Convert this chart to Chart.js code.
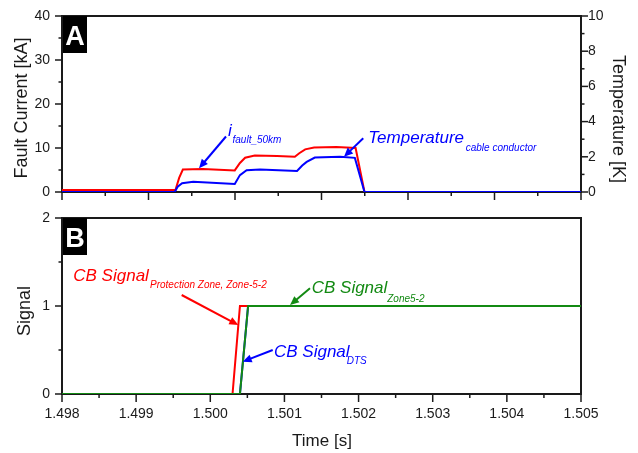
<!DOCTYPE html>
<html>
<head>
<meta charset="utf-8">
<script src="https://cdn.jsdelivr.net/npm/chart.js@4.4.0/dist/chart.umd.min.js"></script>
<style>
  html, body { margin: 0; padding: 0; background: #fff; }
  #wrap { position: relative; width: 638px; height: 453px; }
  canvas { position: absolute; left: 0; }
  #top { top: 0; }
  #bottom { top: 205px; }
</style>
</head>
<body>
<div id="wrap">
  <canvas id="top" width="638" height="205"></canvas>
  <canvas id="bottom" width="638" height="248"></canvas>
</div>
<script>
// panel A: fault current [kA] (left axis) and cable conductor temperature [K] (right axis)
const timeCurrent = [1.498, 1.49953, 1.49958, 1.49963, 1.4999, 1.50033, 1.5004, 1.50047, 1.5006, 1.5009,
                     1.50114, 1.5012, 1.50128, 1.5014, 1.5017, 1.50196, 1.50208, 1.505];
const faultCurrent = [0.45, 0.45, 3.2, 5.1, 5.2, 4.9, 6.6, 7.8, 8.3, 8.2,
                      8.0, 8.8, 9.7, 10.1, 10.2, 10.0, 0, 0];
const timeTemp = [1.498, 1.49952, 1.49956, 1.49962, 1.49977, 1.50033, 1.5004, 1.50049, 1.50067, 1.50117,
                  1.50124, 1.5013, 1.50141, 1.50175, 1.50195, 1.50208, 1.505];
const cableTemp = [0, 0, 0.3, 0.5, 0.58, 0.45, 0.96, 1.24, 1.28, 1.2,
                   1.5, 1.71, 1.96, 2.0, 1.94, 0, 0];

// panel B: circuit breaker signals
const timeCbProt = [1.498, 1.5003, 1.5004, 1.505];
const cbProt = [0, 0, 1, 1];
const timeCbZone = [1.498, 1.5004, 1.50051, 1.505];
const cbZone = [0, 0, 1, 1];
const timeCbDts = [1.498, 1.5004, 1.50051, 1.505];
const cbDts = [0, 0, 1, 1];

// axes
const xMin = 1.498, xMax = 1.505;
const xTicks = [1.498, 1.499, 1.500, 1.501, 1.502, 1.503, 1.504, 1.505];
const currentTicks = [0, 10, 20, 30, 40];
const tempTicks = [0, 2, 4, 6, 8, 10];
const signalTicks = [0, 1, 2];

const FONT = "Arial, 'Liberation Sans', sans-serif";
const INK = '#1a1a1a';
const RED = '#ff0000', BLUE = '#0000ff', GREEN = '#138a13';

Chart.defaults.font.family = FONT;

function pts(xs, ys) { return xs.map((x, i) => ({ x: x, y: ys[i] })); }

function midpoints(a) {
    const out = [];
    for (let i = 0; i < a.length - 1; i++) out.push((a[i] + a[i + 1]) / 2);
    return out;
}

// the scale box is fixed, label overflow must not push the plot area around
function fixBox(size) {
    return s => {
        if (s.isHorizontal()) s.height = size; else s.width = size;
        s.paddingTop = 0; s.paddingBottom = 0; s.paddingLeft = 0; s.paddingRight = 0;
    };
}

// top panel x axis has no labels, just 12 evenly spaced tick marks
const topXMajor = [], topXMinor = [];
for (let k = 0; k <= 12; k++) {
    const v = xMin + (xMax - xMin) * k / 12;
    (k % 2 === 0 ? topXMajor : topXMinor).push(v);
}

function arrow(ctx, x1, y1, x2, y2, color) {
    const a = Math.atan2(y2 - y1, x2 - x1);
    const hl = 9, hw = 4;
    ctx.strokeStyle = color;
    ctx.fillStyle = color;
    ctx.lineWidth = 2;
    ctx.beginPath();
    ctx.moveTo(x1, y1);
    ctx.lineTo(x2 - hl * 0.7 * Math.cos(a), y2 - hl * 0.7 * Math.sin(a));
    ctx.stroke();
    ctx.beginPath();
    ctx.moveTo(x2, y2);
    ctx.lineTo(x2 - hl * Math.cos(a) + hw * Math.sin(a), y2 - hl * Math.sin(a) - hw * Math.cos(a));
    ctx.lineTo(x2 - hl * Math.cos(a) - hw * Math.sin(a), y2 - hl * Math.sin(a) + hw * Math.cos(a));
    ctx.closePath();
    ctx.fill();
}

const framePlugin = {
    id: 'frame',
    beforeDatasetsDraw(chart, args, opts) {
        const { ctx, chartArea: a } = chart;
        ctx.save();
        ctx.strokeStyle = INK;
        ctx.lineWidth = 2;
        ctx.strokeRect(a.left, a.top, a.right - a.left, a.bottom - a.top);
        ctx.lineWidth = 1.5;
        opts.ticks.forEach(spec => {
            const s = chart.scales[spec.scale];
            const draw = (v, len) => {
                const p = s.getPixelForValue(v);
                ctx.beginPath();
                if (spec.side === 'left') { ctx.moveTo(a.left, p); ctx.lineTo(a.left - len, p); }
                else if (spec.side === 'right') { ctx.moveTo(a.right, p); ctx.lineTo(a.right + len, p); }
                else { ctx.moveTo(p, a.bottom); ctx.lineTo(p, a.bottom + len); }
                ctx.stroke();
            };
            spec.major.forEach(v => draw(v, spec.len));
            spec.minor.forEach(v => draw(v, spec.len / 2));
        });
        ctx.restore();
    },
    afterDraw(chart, args, opts) {
        const { ctx, chartArea: a } = chart;
        const sx = chart.scales.x, sy = chart.scales.y;
        ctx.save();

        // panel letter
        ctx.fillStyle = '#000';
        ctx.fillRect(a.left + 1, a.top, 24, 37);
        ctx.fillStyle = '#fff';
        ctx.font = 'bold 27px ' + FONT;
        ctx.textAlign = 'center';
        ctx.textBaseline = 'alphabetic';
        ctx.fillText(opts.panel, a.left + 13, a.top + 29);

        // axis titles
        ctx.fillStyle = INK;
        ctx.textBaseline = 'middle';
        opts.titles.forEach(t => {
            ctx.save();
            ctx.font = t.size + 'px ' + FONT;
            ctx.translate(t.x, t.y);
            ctx.rotate(t.rot);
            ctx.fillText(t.text, 0, 0);
            ctx.restore();
        });

        // labels with subscripts and arrows
        ctx.textAlign = 'left';
        ctx.textBaseline = 'alphabetic';
        opts.notes.forEach(n => {
            ctx.fillStyle = n.color;
            ctx.font = 'italic 17px ' + FONT;
            ctx.fillText(n.text, sx.getPixelForValue(n.t), sy.getPixelForValue(n.v));
            ctx.font = 'italic 10px ' + FONT;
            ctx.fillText(n.sub, sx.getPixelForValue(n.subT), sy.getPixelForValue(n.subV));
            arrow(ctx,
                sx.getPixelForValue(n.from[0]), sy.getPixelForValue(n.from[1]),
                sx.getPixelForValue(n.to[0]), sy.getPixelForValue(n.to[1]), n.color);
        });
        ctx.restore();
    }
};

const tickFont = { family: FONT, size: 14 };
const hiddenGrid = { display: false, drawTicks: false };

new Chart(document.getElementById('top'), {
    type: 'line',
    data: {
        datasets: [
            { label: 'Temperature cable conductor', data: pts(timeTemp, cableTemp), yAxisID: 'y1', borderColor: BLUE },
            { label: 'i fault_50km', data: pts(timeCurrent, faultCurrent), yAxisID: 'y', borderColor: RED }
        ]
    },
    options: {
        responsive: false,
        animation: false,
        layout: { padding: { top: 16, left: 0, right: 0, bottom: 0 } },
        elements: { point: { radius: 0 }, line: { borderWidth: 2, tension: 0 } },
        plugins: {
            legend: { display: false },
            tooltip: { enabled: false },
            frame: {
                panel: 'A',
                ticks: [
                    { scale: 'y', side: 'left', major: currentTicks, minor: midpoints(currentTicks), len: 7 },
                    { scale: 'y1', side: 'right', major: tempTicks, minor: midpoints(tempTicks), len: 7 },
                    { scale: 'x', side: 'bottom', major: topXMajor, minor: topXMinor, len: 8 }
                ],
                titles: [
                    { text: 'Fault Current [kA]', x: 22, y: 108, rot: -Math.PI / 2, size: 18 },
                    { text: 'Temperature [K]', x: 618, y: 119, rot: Math.PI / 2, size: 18 }
                ],
                notes: [
                    { text: 'i', sub: 'fault_50km', color: BLUE, t: 1.500239, v: 12.73, subT: 1.5003, subV: 11.14,
                      from: [1.500212, 12.61], to: [1.499848, 5.39] },
                    { text: 'Temperature', sub: 'cable conductor', color: BLUE, t: 1.502131, v: 11.14, subT: 1.503445, subV: 9.39,
                      from: [1.502063, 12.2], to: [1.501803, 8.02] }
                ]
            }
        },
        scales: {
            x: {
                type: 'linear', min: xMin, max: xMax,
                ticks: { display: false },
                grid: hiddenGrid, border: { display: false },
                afterFit: fixBox(13)
            },
            y: {
                position: 'left', min: 0, max: 40,
                afterBuildTicks: s => { s.ticks = currentTicks.map(v => ({ value: v })); },
                ticks: { padding: 12, color: INK, font: tickFont },
                grid: hiddenGrid, border: { display: false },
                afterFit: fixBox(62)
            },
            y1: {
                position: 'right', min: 0, max: 10,
                afterBuildTicks: s => { s.ticks = tempTicks.map(v => ({ value: v })); },
                ticks: { padding: 7, color: INK, font: tickFont },
                grid: hiddenGrid, border: { display: false },
                afterFit: fixBox(57)
            }
        }
    },
    plugins: [framePlugin]
});

new Chart(document.getElementById('bottom'), {
    type: 'line',
    data: {
        datasets: [
            { label: 'CB Signal Zone5-2', data: pts(timeCbZone, cbZone), borderColor: GREEN },
            { label: 'CB Signal Protection Zone, Zone-5-2', data: pts(timeCbProt, cbProt), borderColor: RED },
            { label: 'CB Signal DTS', data: pts(timeCbDts, cbDts), borderColor: BLUE }
        ]
    },
    options: {
        responsive: false,
        animation: false,
        layout: { padding: { top: 13, left: 0, right: 57, bottom: 0 } },
        elements: { point: { radius: 0 }, line: { borderWidth: 2, tension: 0 } },
        plugins: {
            legend: { display: false },
            tooltip: { enabled: false },
            frame: {
                panel: 'B',
                ticks: [
                    { scale: 'y', side: 'left', major: signalTicks, minor: midpoints(signalTicks), len: 7 },
                    { scale: 'x', side: 'bottom', major: xTicks, minor: midpoints(xTicks), len: 8 }
                ],
                titles: [
                    { text: 'Signal', x: 25, y: 106, rot: -Math.PI / 2, size: 18 },
                    { text: 'Time [s]', x: 322, y: 236, rot: 0, size: 17 }
                ],
                notes: [
                    { text: 'CB Signal', sub: 'Protection Zone, Zone-5-2', color: RED, t: 1.498152, v: 1.284, subT: 1.499187, subV: 1.199,
                      from: [1.499614, 1.125], to: [1.500378, 0.784] },
                    { text: 'CB Signal', sub: 'Zone5-2', color: GREEN, t: 1.501368, v: 1.148, subT: 1.502387, subV: 1.051,
                      from: [1.501345, 1.201], to: [1.501075, 1.011] },
                    { text: 'CB Signal', sub: 'DTS', color: BLUE, t: 1.500859, v: 0.415, subT: 1.50184, subV: 0.341,
                      from: [1.500842, 0.5], to: [1.500437, 0.367] }
                ]
            }
        },
        scales: {
            x: {
                type: 'linear', min: xMin, max: xMax,
                afterBuildTicks: s => { s.ticks = xTicks.map(v => ({ value: v })); },
                ticks: { padding: 12, color: INK, font: tickFont, maxRotation: 0, callback: v => v.toFixed(3) },
                grid: hiddenGrid, border: { display: false },
                afterFit: fixBox(59)
            },
            y: {
                position: 'left', min: 0, max: 2,
                afterBuildTicks: s => { s.ticks = signalTicks.map(v => ({ value: v })); },
                ticks: { padding: 12, color: INK, font: tickFont },
                grid: hiddenGrid, border: { display: false },
                afterFit: fixBox(62)
            }
        }
    },
    plugins: [framePlugin]
});
</script>
</body>
</html>
